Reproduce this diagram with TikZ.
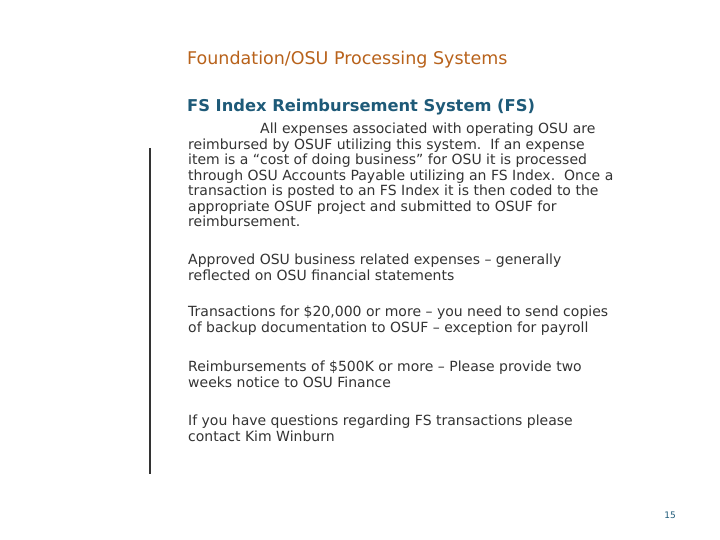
\documentclass[tikz,border=0pt]{standalone}
\usepackage{fontspec}
\setmainfont{DejaVu Sans}
\definecolor{ttl}{HTML}{B8621B}
\definecolor{hd}{HTML}{1E5A78}
\definecolor{bd}{HTML}{333333}
\tikzset{body/.style={anchor=north west,inner sep=0pt,align=left,text=bd,font=\fontsize{14}{15.5}\selectfont}}
\begin{document}
\begin{tikzpicture}[x=1pt,y=-1pt]
\useasboundingbox (0,0) rectangle (720,540);
\node[anchor=west,inner sep=0pt,text=ttl,font=\fontsize{17.5}{18}\selectfont] (title) at (187,60) {Foundation/OSU Processing Systems};
\node[anchor=west,inner sep=0pt,text=hd,font=\bfseries\fontsize{16.3}{18}\selectfont] (head) at (187,107) {FS Index Reimbursement System (FS)};
\node[body] (p1) at (188,123) {\hspace*{72pt}All expenses associated with operating OSU are\\reimbursed by OSUF utilizing this system.\ \ If an expense\\item is a “cost of doing business” for OSU it is processed\\through OSU Accounts Payable utilizing an FS Index.\ \ Once a\\transaction is posted to an FS Index it is then coded to the\\appropriate OSUF project and submitted to OSUF for\\reimbursement.};
\node[body] (p2) at (188,254) {Approved OSU business related expenses – generally\\reflected on OSU financial statements};
\node[body] (p3) at (188,306) {Transactions for \$20,000 or more – you need to send copies\\of backup documentation to OSUF – exception for payroll};
\node[body] (p4) at (188,361) {Reimbursements of \$500K or more – Please provide two\\weeks notice to OSU Finance};
\node[body] (p5) at (188,415) {If you have questions regarding FS transactions please\\contact Kim Winburn};
\coordinate (la) at (150,148);
\coordinate (lb) at (150,474);
\draw[line width=1.2pt,black!80] (la) -- (lb);
\node[inner sep=0pt,text=hd,font=\fontsize{9}{10}\selectfont] (pg) at (670,515) {15};
\end{tikzpicture}
\end{document}
